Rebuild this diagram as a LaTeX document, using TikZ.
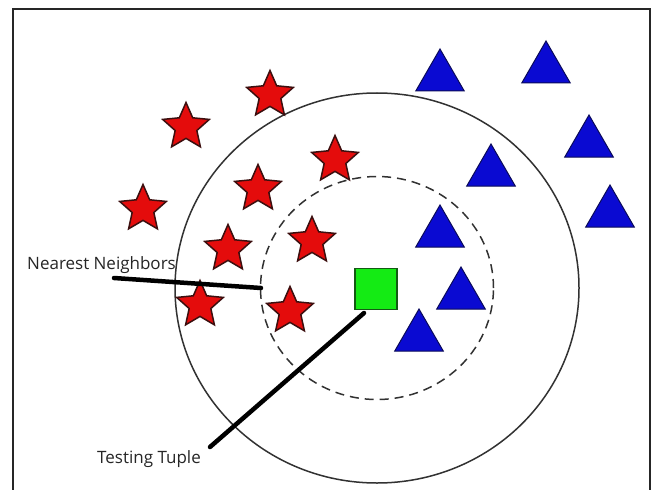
\documentclass[tikz,border=0pt]{standalone}
\usepackage{fontspec}
\setmainfont{Open Sans}
\usetikzlibrary{shapes.geometric,calc}
\definecolor{starred}{RGB}{228,12,12}
\definecolor{starline}{RGB}{60,15,15}
\definecolor{triblue}{RGB}{10,10,210}
\definecolor{triline}{RGB}{10,10,90}
\definecolor{sqgreen}{RGB}{20,235,20}
\definecolor{sqline}{RGB}{20,90,20}
\definecolor{ringgray}{RGB}{50,50,50}
\tikzset{
  redstar/.style={star, star points=5, star point ratio=2.15, minimum size=49pt, inner sep=0pt,
    fill=starred, draw=starline, line width=1.5pt},
  bluetri/.style={regular polygon, regular polygon sides=3, minimum size=56pt, inner sep=0pt,
    fill=triblue, draw=triline, line width=1pt},
  testsq/.style={rectangle, minimum width=42pt, minimum height=41pt, inner sep=0pt,
    fill=sqgreen, draw=sqline, line width=1.2pt},
  ring/.style={draw=ringgray, line width=1.5pt},
  pointer/.style={draw=black, line width=4.5pt, line cap=round},
  lbl/.style={inner sep=0pt, font=\fontsize{17}{20}\selectfont, text=black!85}
}
\begin{document}
\begin{tikzpicture}[x=1pt,y=-1pt]
\useasboundingbox (0,0) rectangle (660,489);
\fill[white] (0,0) rectangle (660,489);
% frame
\draw[line width=1.6pt, draw=black!85] (13,495) -- (13,9) -- (650,9) -- (650,495);
% rings
\node[ring, ellipse, minimum width=404pt, minimum height=390pt, inner sep=0pt] (outer) at (377,288) {};
\node[ring, ellipse, dashed, dash pattern=on 9pt off 6pt, minimum width=233pt, minimum height=223pt, inner sep=0pt] (inner) at (377,288) {};
% stars
\node[redstar] (s1) at (270,95) {};
\node[redstar] (s2) at (186,127) {};
\node[redstar] (s3) at (335,160) {};
\node[redstar] (s4) at (258,189) {};
\node[redstar] (s5) at (143,209) {};
\node[redstar] (s6) at (228,249) {};
\node[redstar] (s7) at (312,241) {};
\node[redstar] (s8) at (200,305) {};
\node[redstar] (s9) at (290,311) {};
% triangles
\node[bluetri] (t1) at (440,77) {};
\node[bluetri] (t2) at (546,69) {};
\node[bluetri] (t3) at (589,143) {};
\node[bluetri] (t4) at (491,172) {};
\node[bluetri] (t5) at (610,213) {};
\node[bluetri] (t6) at (440,233) {};
\node[bluetri] (t7) at (461,295) {};
\node[bluetri] (t8) at (419,337) {};
% test tuple
\node[testsq] (sq) at (376,289) {};
% labels
\node[lbl, anchor=base west] (nnlbl) at (27,269) {Nearest Neighbors};
\node[lbl, anchor=base west] (ttlbl) at (97,463) {Testing Tuple};
% pointers
\coordinate (nnstart) at (114,278);
\coordinate (nnend) at (261,288);
\coordinate (ttstart) at (364,313);
\coordinate (ttend) at (210,447);
\draw[pointer] (nnstart) -- (nnend);
\draw[pointer] (ttstart) -- (ttend);
\end{tikzpicture}
\end{document}
